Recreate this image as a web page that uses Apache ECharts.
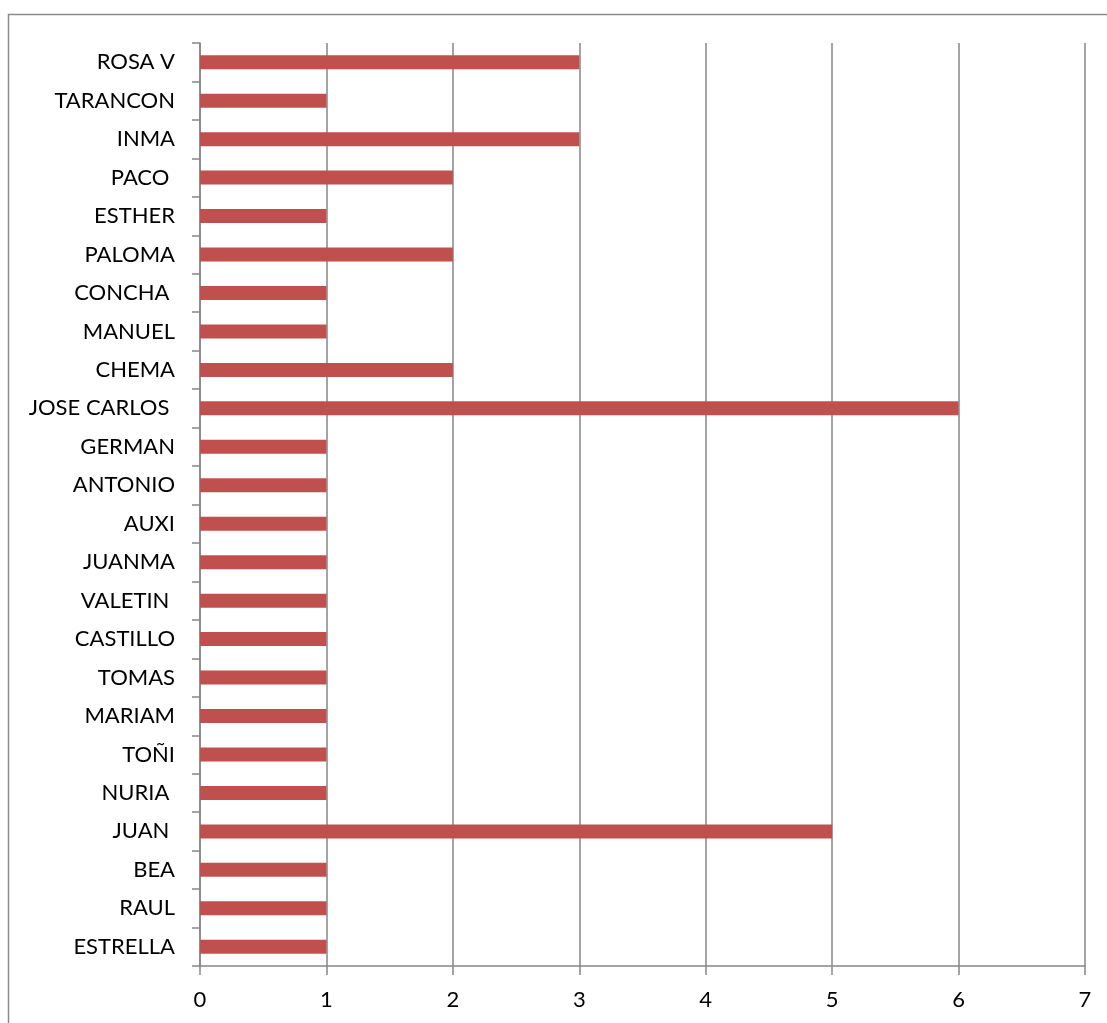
<!DOCTYPE html>
<html>
<head>
<meta charset="utf-8">
<script src="https://cdn.jsdelivr.net/npm/echarts@6/dist/echarts.min.js"></script>
<style>
html,body{margin:0;padding:0;background:#fff;}
#c{width:1107px;height:1023px;}
</style>
</head>
<body>
<div id="c"></div>
<script>
const categories = ['ESTRELLA','RAUL','BEA','JUAN ','NURIA ','TOÑI','MARIAM','TOMAS','CASTILLO','VALETIN ','JUANMA','AUXI','ANTONIO','GERMAN','JOSE CARLOS ','CHEMA','MANUEL','CONCHA ','PALOMA','ESTHER','PACO ','INMA','TARANCON','ROSA V'];
const values = [1,1,1,5,1,1,1,1,1,1,1,1,1,1,6,2,1,1,2,1,2,3,1,3];
const xTicks = [0,1,2,3,4,5,6,7];

const chart = echarts.init(document.getElementById('c'), null, {renderer:'canvas'});
const gray = '#868686';
const font = 'Lato, "Noto Sans", sans-serif';
chart.setOption({
  animation:false,
  backgroundColor:'#fff',
  graphic:[{type:'rect',shape:{x:8.5,y:14.5,width:1200,height:1200},style:{fill:'none',stroke:'#8c8c8c',lineWidth:1.5},silent:true,z:-1}],
  grid:{left:200,right:22,top:43,bottom:57,containLabel:false},
  xAxis:{type:'value',min:xTicks[0],max:xTicks[xTicks.length-1],interval:1,
    axisLine:{show:true,lineStyle:{color:gray,width:1.5}},
    axisTick:{show:true,length:9,lineStyle:{color:gray,width:1.5}},
    splitLine:{show:true,lineStyle:{color:gray,width:1.5}},
    axisLabel:{color:'#000',fontSize:22,fontFamily:font,margin:23}},
  yAxis:{type:'category',data:categories,
    axisLine:{show:true,lineStyle:{color:gray,width:1.5}},
    axisTick:{show:true,length:8,lineStyle:{color:gray,width:1.5}},
    axisLabel:{color:'#000',fontSize:22,fontFamily:font,margin:25,interval:0},
    splitLine:{show:false}},
  series:[{type:'bar',data:values,barWidth:14,itemStyle:{color:'#C0504D'}}]
});
</script>
</body>
</html>
